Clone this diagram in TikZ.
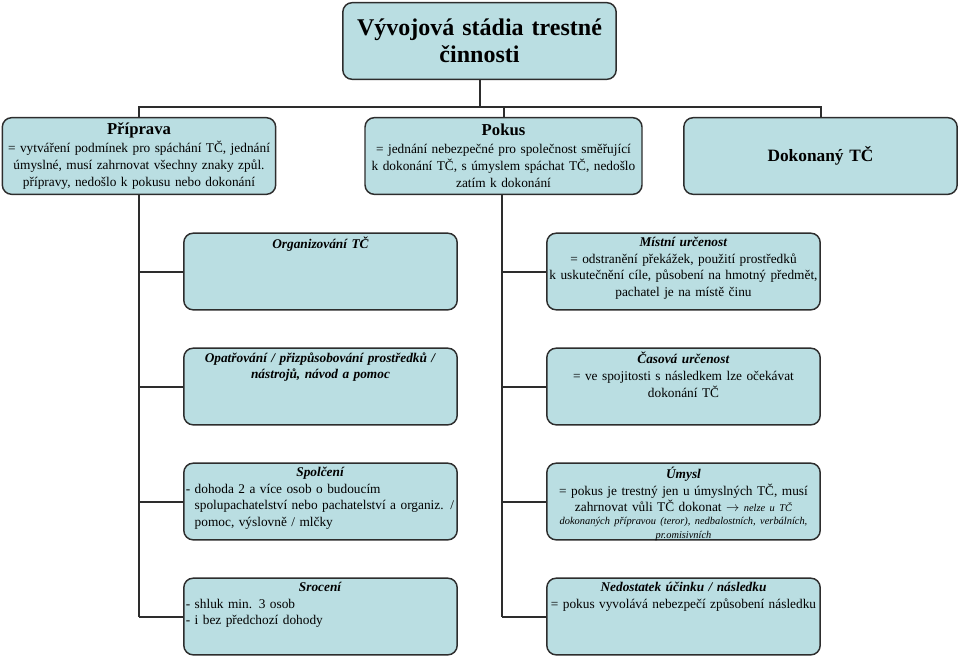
\documentclass[tikz,border=0pt]{standalone}
\usepackage{fontspec}
\setmainfont{Liberation Serif}
\usetikzlibrary{positioning}
\definecolor{boxfill}{RGB}{186,222,226}
\definecolor{boxline}{RGB}{45,45,45}
\tikzset{
  stage/.style={draw=boxline, line width=1.1pt, fill=boxfill, rounded corners=7pt,
    minimum width=205pt, minimum height=57.5pt, inner sep=2pt, align=center},
  branchbox/.style={stage},
  boxtext/.style={anchor=north, inner sep=0pt, text width=206pt,
    font=\fontsize{10}{12.4}\selectfont},
  conn/.style={line width=1.5pt, color=boxline},
}
\newcommand{\subhead}[1]{\textbf{\textit{#1}}}
\begin{document}
\begin{tikzpicture}[x=0.75pt, y=-0.75pt]
  \useasboundingbox (0,0) rectangle (959,660);
  % main title and the three stages
  \node[stage, text width=200pt,
    font=\fontsize{18}{20.5}\selectfont\bfseries] (title) at (479.5,41)
    {Vývojová stádia trestné\\ činnosti\\[-5pt]};
  \node[stage, text width=200pt, font=\fontsize{10}{12.6}\selectfont] (prip) at (139,156)
    {{\fontsize{12.5}{14}\selectfont\bfseries Příprava}\\[1pt]
     = vytváření podmínek pro spáchání TČ, jednání\\
     úmyslné, musí zahrnovat všechny znaky způl.\\
     přípravy, nedošlo k pokusu nebo dokonání};
  \node[stage, minimum width=207.75pt, text width=200pt, font=\fontsize{10}{12.6}\selectfont] (pokus) at (503.5,156)
    {{\fontsize{12.5}{14}\selectfont\bfseries Pokus}\\[1pt]
     = jednání nebezpečné pro společnost směřující\\
     k dokonání TČ, s úmyslem spáchat TČ, nedošlo\\
     zatím k dokonání};
  \node[stage, text width=200pt, font=\fontsize{13}{15}\selectfont\bfseries] (dokon) at (820.5,156)
    {Dokonaný TČ};
  % branches of Příprava
  \node[branchbox] (org)   at (320.5,271.5) {};
  \node[branchbox] (opatr) at (320.5,386.5) {};
  \node[branchbox] (spolc) at (320.5,501.5) {};
  \node[branchbox] (sroc)  at (320.5,616.5) {};
  % branches of Pokus
  \node[branchbox] (mist)   at (683.5,271.5) {};
  \node[branchbox] (cas)    at (683.5,386.5) {};
  \node[branchbox] (umysl)  at (683.5,501.5) {};
  \node[branchbox] (nedost) at (683.5,616.5) {};
  % texts
  \node[boxtext, align=center, below=3.5pt of org.north] (org-t) {\subhead{Organizování TČ}};
  \node[boxtext, align=center, below=3.5pt of opatr.north] (opatr-t)
    {\subhead{Opatřování / přizpůsobování prostředků /}\\ \subhead{nástrojů, návod a pomoc}};
  \node[boxtext, text width=202pt, align=left, below=3.5pt of spolc.north] (spolc-t)
    {\hfill\subhead{Spolčení}\hfill\null\\
     - dohoda 2 a více osob o budoucím\\
     \phantom{- }spolupachatelství nebo pachatelství a organiz. /\\
     \phantom{- }pomoc, výslovně / mlčky};
  \node[boxtext, text width=202pt, align=left, below=3.5pt of sroc.north] (sroc-t)
    {\hfill\subhead{Srocení}\hfill\null\\
     - shluk min. 3 osob\\ - i bez předchozí dohody};
  \node[boxtext, align=center, below=3.5pt of mist.north] (mist-t)
    {\subhead{Místní určenost}\\ = odstranění překážek, použití prostředků\\
     k uskutečnění cíle, působení na hmotný předmět,\\ pachatel je na místě činu};
  \node[boxtext, align=center, below=3.5pt of cas.north] (cas-t)
    {\subhead{Časová určenost}\\ = ve spojitosti s následkem lze očekávat\\ dokonání TČ};
  \node[boxtext, below=3.5pt of umysl.north] (umysl-t)
    {{\centering\subhead{Úmysl}\\ = pokus je trestný jen u úmyslných TČ, musí\\
     zahrnovat vůli TČ dokonat $\rightarrow$ {\fontsize{7.8}{9}\selectfont\itshape nelze u TČ}\par}
     {\centering\fontsize{7.8}{9.8}\selectfont\itshape dokonaných přípravou (teror), nedbalostních, verbálních,\\ pr.omisivních\par}};
  \node[boxtext, align=center, below=3.5pt of nedost.north] (nedost-t)
    {\subhead{Nedostatek účinku / následku}\\ = pokus vyvolává nebezpečí způsobení následku};
  % connectors
  \coordinate (split) at (479.5,107);
  \draw[conn] (title.south) -- (split);
  \draw[conn] (prip.north) |- (split) -| (dokon.north);
  \draw[conn] (pokus.north) -- (pokus.north |- split);
  \coordinate (lspine) at (139,616.5);
  \coordinate (rspine) at (502,616.5);
  \draw[conn] (prip.south) -- (lspine);
  \draw[conn] (pokus.south -| rspine) -- (rspine);
  \foreach \b in {org, opatr, spolc, sroc}
    \draw[conn] (lspine |- \b.west) -- (\b.west);
  \foreach \b in {mist, cas, umysl, nedost}
    \draw[conn] (rspine |- \b.west) -- (\b.west);
\end{tikzpicture}
\end{document}
